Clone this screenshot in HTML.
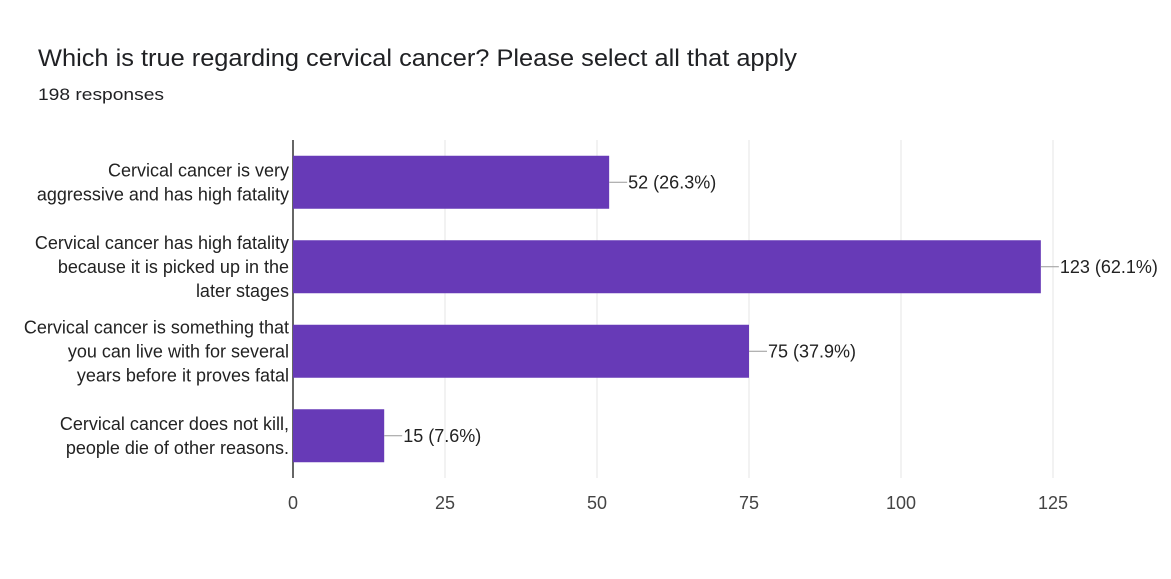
<!DOCTYPE html>
<html><head><meta charset="utf-8"><style>
body{margin:0;background:#fff;font-family:"Liberation Sans",Arial,sans-serif;}
#wrap{position:relative;width:1171px;height:579px;overflow:hidden;}
</style></head><body>
<div id="wrap">
<svg id="chart" width="1171" height="579">
<text x="38" y="66" font-size="24" fill="#202124" textLength="759" lengthAdjust="spacingAndGlyphs">Which is true regarding cervical cancer? Please select all that apply</text>
<text x="38" y="100" font-size="17" fill="#202124" textLength="126" lengthAdjust="spacingAndGlyphs">198 responses</text>
</svg>
</div>
<script>
const categories=[["Cervical cancer is very","aggressive and has high fatality"],["Cervical cancer has high fatality","because it is picked up in the","later stages"],["Cervical cancer is something that","you can live with for several","years before it proves fatal"],["Cervical cancer does not kill,","people die of other reasons."]];
const values=[52,123,75,15];
const valueLabels=["52 (26.3%)","123 (62.1%)","75 (37.9%)","15 (7.6%)"];
const ticks=[0,25,50,75,100,125];
const svg=document.getElementById('chart');
const NS='http://www.w3.org/2000/svg';
const x0=293,x1=1053,yTop=140,yBottom=478,maxV=125;
const xs=v=>x0+(x1-x0)*v/maxV;
const band=(yBottom-yTop)/categories.length;
const yc=i=>yTop+band*(i+0.5);
function mk(t,a){const e=document.createElementNS(NS,t);for(const k in a)e.setAttribute(k,a[k]);svg.appendChild(e);return e;}
ticks.forEach((t,i)=>{
 if(t>0){const g=mk('line',{x1:xs(t),x2:xs(t),y1:yTop,y2:yBottom,stroke:'#e6e6e6','stroke-width':1});
 
 }
 const tl=mk('text',{x:xs(t),y:509,'font-size':18,fill:'#444','text-anchor':'middle'});tl.textContent=t;
 
 
});
const ax=mk('line',{x1:x0,x2:x0,y1:yTop,y2:yBottom,stroke:'#333','stroke-width':1.5});


values.forEach((v,i)=>{
 const h=53,y=yc(i)-h/2;
 const b=mk('rect',{x:x0,y:y,width:xs(v)-x0,height:h,fill:'#673ab7'});
 
 
 const l=mk('line',{x1:xs(v),x2:xs(v)+18,y1:yc(i),y2:yc(i),stroke:'#999','stroke-width':1});
 
 
 const vt=mk('text',{x:xs(v)+19,y:yc(i)+6,'font-size':18,fill:'#222'});vt.textContent=valueLabels[i];
 
 
 const lines=categories[i],lh=24,start=yc(i)-(lines.length-1)*lh/2+6;
 const ct=mk('text',{x:289,y:start,'font-size':18,fill:'#222','text-anchor':'end'});
 
 
 lines.forEach((s,j)=>{const ts=document.createElementNS(NS,'tspan');ts.setAttribute('x',289);ts.setAttribute('y',start+j*lh);ts.textContent=s;ct.appendChild(ts);});
});
</script>
</body></html>
